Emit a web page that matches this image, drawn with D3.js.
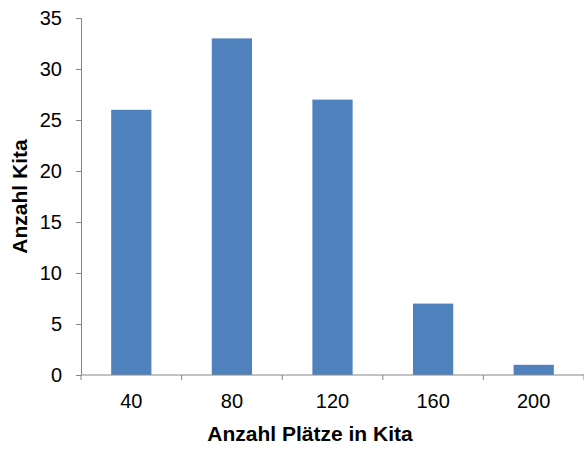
<!DOCTYPE html>
<html>
<head>
<meta charset="utf-8">
<script src="https://cdn.jsdelivr.net/npm/d3@7/dist/d3.min.js"></script>
<style>
  html, body { margin: 0; padding: 0; background: #fff; }
  svg { display: block; }
</style>
</head>
<body>
<div id="chart"></div>
<script>
// Kita size distribution
const categories = ["40", "80", "120", "160", "200"];
const counts = [26, 33, 27, 7, 1];
const yTicks = [0, 5, 10, 15, 20, 25, 30, 35];

const width = 584, height = 450;
const margin = { top: 18, right: 0, bottom: 75, left: 81 };

const svg = d3.select("#chart").append("svg")
  .attr("width", width).attr("height", height)
  .style("font-family", "'Liberation Sans', Arial, sans-serif");

const x = d3.scaleBand()
  .domain(categories)
  .range([margin.left, width - margin.right])
  .paddingInner(0.6).paddingOuter(0.3);

const y = d3.scaleLinear()
  .domain([0, 35])
  .range([height - margin.bottom, margin.top]);

const axisColor = "#868686";

// bars
svg.append("g").selectAll("rect")
  .data(counts)
  .join("rect")
  .attr("x", (d, i) => x(categories[i]))
  .attr("y", d => y(d))
  .attr("width", x.bandwidth())
  .attr("height", d => y(0) - y(d))
  .attr("fill", "#4F81BD");

// y axis
const yAxis = svg.append("g")
  .attr("transform", `translate(${margin.left},0)`)
  .call(d3.axisLeft(y).tickValues(yTicks).tickSize(5).tickPadding(14));
yAxis.select(".domain").attr("stroke", axisColor);
yAxis.selectAll(".tick line").attr("stroke", axisColor);
yAxis.selectAll(".tick text")
  .attr("fill", "#000").style("font-size", "20px")
  .style("font-family", "'Liberation Sans', Arial, sans-serif");

// x axis: tick marks sit between categories
const bounds = d3.range(categories.length + 1).map(i => margin.left + i * (width - margin.right - margin.left) / categories.length);
const xg = svg.append("g");
xg.append("line")
  .attr("x1", margin.left).attr("x2", width - margin.right)
  .attr("y1", y(0)).attr("y2", y(0))
  .attr("stroke", axisColor);
xg.selectAll("line.tk")
  .data(bounds)
  .join("line")
  .attr("class", "tk")
  .attr("x1", d => d).attr("x2", d => d)
  .attr("y1", y(0)).attr("y2", y(0) + 5)
  .attr("stroke", axisColor);
xg.selectAll("text")
  .data(categories)
  .join("text")
  .attr("x", d => x(d) + x.bandwidth() / 2)
  .attr("y", y(0) + 33)
  .attr("text-anchor", "middle")
  .style("font-size", "20px")
  .text(d => d);

// axis titles
svg.append("text")
  .attr("x", 310)
  .attr("y", 441)
  .attr("text-anchor", "middle")
  .style("font-size", "21px").style("font-weight", "bold")
  .text("Anzahl Plätze in Kita");

svg.append("text")
  .attr("transform", `translate(27,${(y(0) + y(35)) / 2}) rotate(-90)`)
  .attr("text-anchor", "middle")
  .style("font-size", "21px").style("font-weight", "bold")
  .text("Anzahl Kita");
</script>
</body>
</html>
